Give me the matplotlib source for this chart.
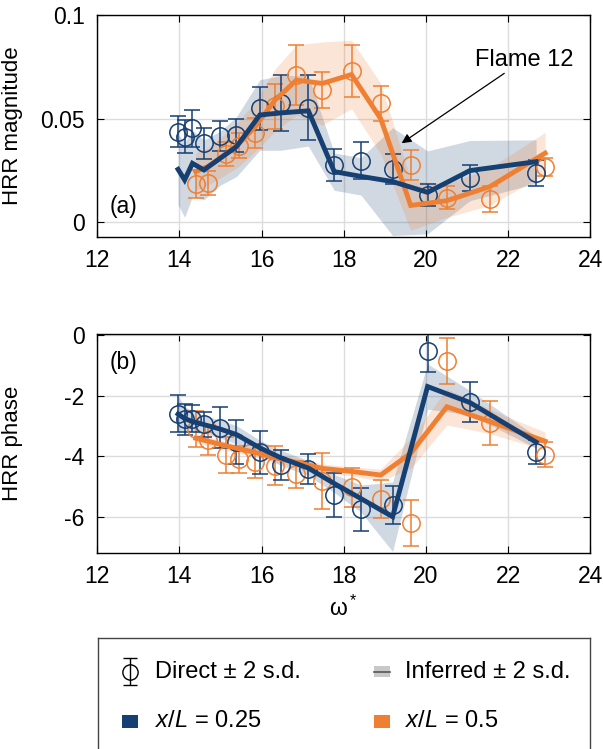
"""HRR magnitude / phase vs omega*, direct vs inferred."""
import matplotlib
matplotlib.use("Agg")
import matplotlib.pyplot as plt
from matplotlib.patches import Rectangle
from matplotlib.lines import Line2D
import numpy as np

plt.rcParams["font.family"] = ["Liberation Sans", "DejaVu Sans"]
plt.rcParams["mathtext.fontset"] = "custom"
plt.rcParams["mathtext.rm"] = "Liberation Sans"
plt.rcParams["mathtext.it"] = "Liberation Sans:italic"
plt.rcParams["mathtext.default"] = "regular"

BLUE = "#163f72"
ORANGE = "#ef7f32"

# x/L = 0.25 (blue)
omega_b = [13.97, 14.13, 14.32, 14.60, 15.00, 15.39, 15.96, 16.47, 17.14, 17.77, 18.42, 19.19, 20.04, 21.07, 22.68]
mag_b = [0.0438, 0.0413, 0.0454, 0.0381, 0.0417, 0.0421, 0.0550, 0.0574, 0.0554, 0.0277, 0.0298, 0.0256, 0.0133, 0.0216, 0.0237]
mag_b_err = [0.0076, 0.008, 0.009, 0.0074, 0.0074, 0.008, 0.0104, 0.0135, 0.0156, 0.0079, 0.009, 0.0072, 0.0052, 0.0062, 0.0062]
mag_b_inf = [0.0256, 0.0205, 0.0285, 0.0253, 0.031, 0.0365, 0.0518, 0.0528, 0.0538, 0.0245, 0.0222, 0.0197, 0.0145, 0.0250, 0.0293]
mag_b_sd = [0.017, 0.018, 0.016, 0.0144, 0.013, 0.0144, 0.017, 0.018, 0.017, 0.009, 0.009, 0.026, 0.020, 0.0145, 0.0105]
ph_b = [-2.59, -2.78, -2.76, -2.94, -3.06, -3.53, -3.87, -4.28, -4.42, -5.28, -5.76, -5.61, -0.53, -2.2, -3.87]
ph_b_err = [0.62, 0.5, 0.45, 0.42, 0.68, 0.73, 0.7, 0.49, 0.5, 0.72, 0.72, 0.63, 0.67, 0.67, 0.4]
ph_b_inf = [-2.6, -2.75, -2.85, -2.95, -3.1, -3.28, -3.72, -4.05, -4.39, -4.9, -5.4, -6.0, -1.69, -2.22, -3.53]
ph_b_sd = [0.6, 0.4, 0.35, 0.3, 0.3, 0.3, 0.25, 0.25, 0.25, 0.3, 0.45, 1.15, 0.75, 0.4, 0.2]

# x/L = 0.5 (orange)
omega_o = [14.40, 14.70, 15.13, 15.45, 15.84, 16.33, 16.85, 17.48, 18.19, 18.90, 19.63, 20.51, 21.56, 22.90]
mag_o = [0.0185, 0.019, 0.033, 0.037, 0.043, 0.056, 0.071, 0.0638, 0.0731, 0.0574, 0.0277, 0.012, 0.0114, 0.0269]
mag_o_err = [0.0068, 0.006, 0.0056, 0.006, 0.0072, 0.0108, 0.0144, 0.0088, 0.0125, 0.0083, 0.007, 0.0056, 0.0064, 0.0044]
mag_o_inf = [0.0245, 0.027, 0.033, 0.038, 0.046, 0.059, 0.0686, 0.067, 0.0713, 0.050, 0.0082, 0.0105, 0.0173, 0.0334]
mag_o_sd = [0.009, 0.009, 0.01, 0.011, 0.012, 0.015, 0.017, 0.02, 0.0165, 0.017, 0.012, 0.008, 0.009, 0.01]
ph_o = [-3.1, -3.45, -3.95, -4.1, -4.18, -4.31, -4.6, -4.83, -5.03, -5.41, -6.21, -0.84, -2.89, -3.94]
ph_o_err = [0.6, 0.5, 0.6, 0.45, 0.55, 0.65, 0.45, 0.93, 0.65, 0.64, 0.75, 0.75, 0.72, 0.42]
ph_o_inf = [-3.4, -3.5, -3.65, -3.75, -3.87, -4.05, -4.2, -4.4, -4.5, -4.62, -3.9, -2.36, -2.85, -3.5]
ph_o_sd = [0.15, 0.15, 0.15, 0.15, 0.15, 0.15, 0.15, 0.15, 0.15, 0.2, 0.5, 0.6, 0.4, 0.3]

FS = 16.5   # ticks, annotations
LFS = 15    # axis labels
GFS = 17    # legend


def panel(ax, xb, yb, eb, ib, sb, xo, yo, eo, io, so):
    xb, ib, sb = np.array(xb), np.array(ib), np.array(sb)
    xo, io, so = np.array(xo), np.array(io), np.array(so)
    ax.fill_between(xb, ib - sb, ib + sb, color=BLUE, alpha=0.2, lw=0, zorder=1)
    ax.fill_between(xo, io - so, io + so, color=ORANGE, alpha=0.2, lw=0, zorder=1)
    for x, y, e, c in [(xo, yo, eo, ORANGE), (xb, yb, eb, BLUE)]:
        ax.errorbar(x, y, yerr=e, fmt="o", mfc="none", mec=c, ms=12.5, mew=1.1,
                    ecolor=c, elinewidth=1.1, capsize=6, capthick=1.1, zorder=2)
    ax.plot(xo, io, color=ORANGE, lw=3.5, zorder=3, solid_joinstyle="miter")
    ax.plot(xb, ib, color=BLUE, lw=3.5, zorder=4, solid_joinstyle="miter")
    ax.set_xlim(12, 24)
    ax.set_xticks(np.arange(12, 25, 2))
    ax.grid(True, color="#dcdcdc", lw=1.0)
    ax.set_axisbelow(True)
    ax.tick_params(direction="in", labelsize=FS, length=5, top=True, right=True, pad=9)
    for s in ax.spines.values():
        s.set_linewidth(1.0)


fig = plt.figure(figsize=(6.03, 7.49), dpi=100)

ax1 = fig.add_axes([0.161, 0.6836, 0.818, 0.2964])
panel(ax1, omega_b, mag_b, mag_b_err, mag_b_inf, mag_b_sd,
      omega_o, mag_o, mag_o_err, mag_o_inf, mag_o_sd)
ax1.set_ylim(-0.007, 0.1)
ax1.set_yticks([0, 0.05, 0.1])
ax1.set_yticklabels(["0", "0.05", "0.1"])
ax1.set_ylabel("HRR magnitude", fontsize=LFS + 1)
ax1.text(12.3, 0.0077, "(a)", fontsize=FS, va="center")
ax1.annotate("Flame 12", xy=(19.41, 0.0382), xytext=(21.2, 0.0785), fontsize=FS + 0.5,
             va="center", ha="left",
             arrowprops=dict(arrowstyle="-|>", color="black", lw=0.9,
                             mutation_scale=14, shrinkA=0, shrinkB=0))

ax2 = fig.add_axes([0.161, 0.2617, 0.818, 0.2924])
panel(ax2, omega_b, ph_b, ph_b_err, ph_b_inf, ph_b_sd,
      omega_o, ph_o, ph_o_err, ph_o_inf, ph_o_sd)
ax2.set_ylim(-7.2, 0.05)
ax2.set_yticks([0, -2, -4, -6])
ax2.set_yticklabels(["0", "-2", "-4", "-6"])
ax2.set_ylabel("HRR phase", fontsize=LFS + 1)
ax2.set_xlabel("ω$^*$", fontsize=FS, labelpad=5)
ax2.text(12.3, -0.88, "(b)", fontsize=FS, va="center")

ax1.yaxis.set_label_coords(-0.15, 0.5)
ax2.yaxis.set_label_coords(-0.15, 0.5)

# legend box (runs off the bottom of the figure)
lg = fig.add_axes([0.1625, -0.06, 0.8155, 0.208])
lg.set_xlim(0, 1)
lg.set_ylim(0, 1)
lg.set_xticks([])
lg.set_yticks([])
for s in lg.spines.values():
    s.set_linewidth(1.0)
    s.set_color("#444444")

r1, r2 = 0.785, 0.465
ix1, ix2 = 0.065, 0.577
tx1, tx2 = 0.115, 0.625
lg.errorbar([ix1], [r1], yerr=[0.085], fmt="o", mfc="none", mec="black", ms=11, mew=1.0,
            ecolor="black", elinewidth=1.0, capsize=5, capthick=1.0)
lg.text(tx1, r1, "Direct ± 2 s.d.", fontsize=GFS, va="center")
lg.add_patch(Rectangle((ix2 - 0.016, r1 - 0.035), 0.032, 0.07, color="#c8c8c8", lw=0))
lg.add_line(Line2D([ix2 - 0.016, ix2 + 0.016], [r1, r1], color="#555555", lw=1.2))
lg.text(tx2, r1, "Inferred ± 2 s.d.", fontsize=GFS, va="center")
lg.add_patch(Rectangle((ix1 - 0.016, r2 - 0.04), 0.032, 0.08, color=BLUE, lw=0))
lg.text(tx1, r2, "$\\mathit{x/L}$ = 0.25", fontsize=GFS, va="center")
lg.add_patch(Rectangle((ix2 - 0.016, r2 - 0.04), 0.032, 0.08, color=ORANGE, lw=0))
lg.text(tx2, r2, "$\\mathit{x/L}$ = 0.5", fontsize=GFS, va="center")

fig.savefig("out.png", dpi=100)
